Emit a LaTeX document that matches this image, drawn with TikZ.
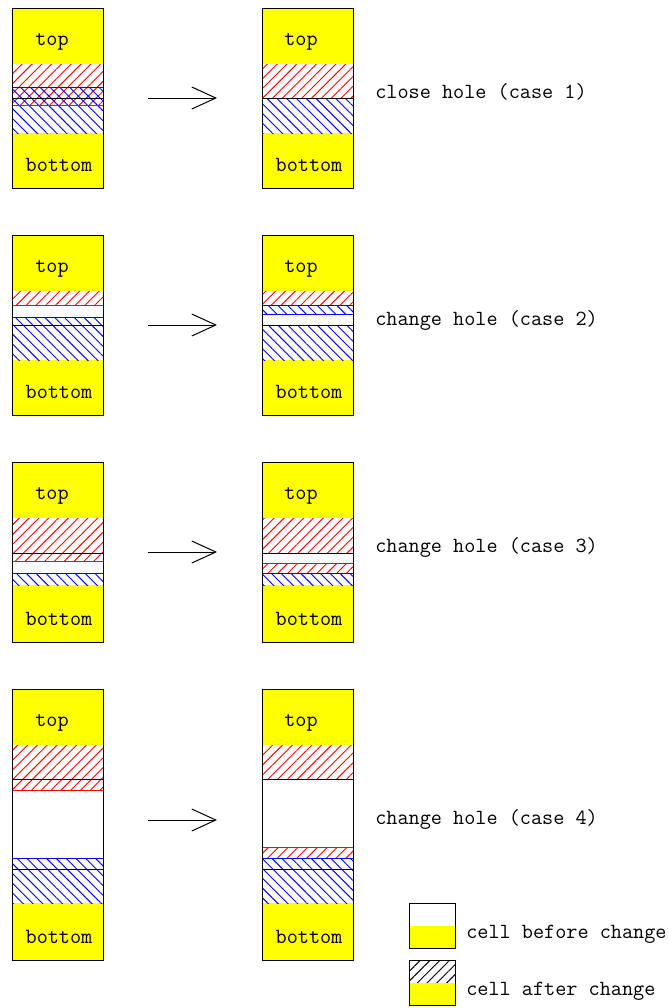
\documentclass[tikz,border=0pt]{standalone}
\usepackage{fontspec}
\usetikzlibrary{patterns.meta,arrows.meta}
\definecolor{yy}{RGB}{255,255,0}
\definecolor{rr}{RGB}{255,0,0}
\definecolor{bb}{RGB}{0,0,255}
\begin{document}
\begin{tikzpicture}[x=0.75pt,y=-0.75pt,
  cellbox/.style={draw=black,line width=0.75pt},
  yel/.style={fill=yy},
  redh/.style={pattern={Lines[angle=45,distance=5.2pt,line width=0.7pt]},pattern color=rr},
  blueh/.style={pattern={Lines[angle=-45,distance=5.2pt,line width=0.7pt]},pattern color=bb},
  blackh/.style={pattern={Lines[angle=45,distance=5.2pt,line width=0.7pt]},pattern color=black},
  redl/.style={draw=rr,line width=0.75pt},
  bluel/.style={draw=bb,line width=0.75pt},
  blackl/.style={draw=black,line width=0.75pt},
  txt/.style={font=\ttfamily\fontsize{16.2}{19}\selectfont,inner sep=0pt,anchor=base},
  lbl/.style={txt,anchor=base west},
  arr/.style={line width=0.75pt,-{Straight Barb[length=18pt,width=16.5pt,line width=0.75pt]}}
]
\useasboundingbox (0,0) rectangle (668,1008);
\fill[white] (0,0) rectangle (668,1008);

% ================= CASE 1 =================
% left
\fill[yel] (12,8) rectangle (103,64);
\fill[yel] (12,133) rectangle (103,188);
\fill[redh] (12,64) rectangle (103,105);
\fill[blueh] (12,87) rectangle (103,133);
\draw[redl] (12,105) -- (103,105);
\draw[bluel] (12,87) -- (103,87);
\draw[blackl] (12,98) -- (103,98);
\draw[cellbox] (12,8) rectangle (103,188);
\node[txt] (t1l) at (52,45) {top};
\node[txt] (b1l) at (59,171) {bottom};
% right
\fill[yel] (262,8) rectangle (353,64);
\fill[yel] (262,133) rectangle (353,188);
\fill[redh] (262,64) rectangle (353,98);
\fill[blueh] (262,98) rectangle (353,133);
\draw[blackl] (262,98) -- (353,98);
\draw[cellbox] (262,8) rectangle (353,188);
\node[txt] (t1r) at (301,45) {top};
\node[txt] (b1r) at (309,171) {bottom};
\coordinate (a1s) at (148,98);
\coordinate (a1e) at (217,98);
\draw[arr] (a1s) -- (a1e);
\node[lbl] (l1) at (375,98) {close hole (case 1)};

% ================= CASE 2 =================
% left
\fill[yel] (12,235) rectangle (103,291);
\fill[yel] (12,360) rectangle (103,415);
\fill[redh] (12,291) rectangle (103,305);
\fill[blueh] (12,317) rectangle (103,360);
\draw[redl] (12,305) -- (103,305);
\draw[bluel] (12,317) -- (103,317);
\draw[blackl] (12,325) -- (103,325);
\draw[cellbox] (12,235) rectangle (103,415);
\node[txt] (t2l) at (52,272) {top};
\node[txt] (b2l) at (59,398) {bottom};
% right
\fill[yel] (262,235) rectangle (353,291);
\fill[yel] (262,360) rectangle (353,415);
\fill[redh] (262,291) rectangle (353,305);
\fill[blueh] (262,305) rectangle (353,314);
\fill[blueh] (262,325) rectangle (353,360);
\draw[redl] (262,305) -- (353,305);
\draw[bluel] (262,305) -- (353,305);
\draw[bluel] (262,314) -- (353,314);
\draw[blackl] (262,325) -- (353,325);
\draw[cellbox] (262,235) rectangle (353,415);
\node[txt] (t2r) at (301,272) {top};
\node[txt] (b2r) at (309,398) {bottom};
\coordinate (a2s) at (148,325);
\coordinate (a2e) at (217,325);
\draw[arr] (a2s) -- (a2e);
\node[lbl] (l2) at (375,325) {change hole (case 2)};

% ================= CASE 3 =================
% left
\fill[yel] (12,462) rectangle (103,518);
\fill[yel] (12,585) rectangle (103,642);
\fill[redh] (12,518) rectangle (103,561);
\fill[blueh] (12,573) rectangle (103,585);
\draw[redl] (12,561) -- (103,561);
\draw[bluel] (12,573) -- (103,573);
\draw[blackl] (12,553) -- (103,553);
\draw[cellbox] (12,462) rectangle (103,642);
\node[txt] (t3l) at (52,499) {top};
\node[txt] (b3l) at (59,625) {bottom};
% right
\fill[yel] (262,462) rectangle (353,518);
\fill[yel] (262,585) rectangle (353,642);
\fill[redh] (262,518) rectangle (353,553);
\fill[redh] (262,563) rectangle (353,573);
\fill[blueh] (262,573) rectangle (353,585);
\draw[redl] (262,563) -- (353,563);
\draw[bluel] (262,573) -- (353,573);
\draw[blackl] (262,553) -- (353,553);
\draw[cellbox] (262,462) rectangle (353,642);
\node[txt] (t3r) at (301,499) {top};
\node[txt] (b3r) at (309,625) {bottom};
\coordinate (a3s) at (148,552);
\coordinate (a3e) at (217,552);
\draw[arr] (a3s) -- (a3e);
\node[lbl] (l3) at (375,552) {change hole (case 3)};

% ================= CASE 4 =================
% left
\fill[yel] (12,689) rectangle (103,745);
\fill[yel] (12,903) rectangle (103,960);
\fill[redh] (12,745) rectangle (103,790);
\fill[blueh] (12,858) rectangle (103,903);
\draw[redl] (12,790) -- (103,790);
\draw[bluel] (12,858) -- (103,858);
\draw[blackl] (12,779) -- (103,779);
\draw[blackl] (12,869) -- (103,869);
\draw[cellbox] (12,689) rectangle (103,960);
\node[txt] (t4l) at (52,726) {top};
\node[txt] (b4l) at (59,943) {bottom};
% right
\fill[yel] (262,689) rectangle (353,745);
\fill[yel] (262,903) rectangle (353,960);
\fill[redh] (262,745) rectangle (353,779);
\fill[redh] (262,847) rectangle (353,858);
\fill[blueh] (262,858) rectangle (353,903);
\draw[redl] (262,847) -- (353,847);
\draw[bluel] (262,858) -- (353,858);
\draw[blackl] (262,779) -- (353,779);
\draw[blackl] (262,869) -- (353,869);
\draw[cellbox] (262,689) rectangle (353,960);
\node[txt] (t4r) at (301,726) {top};
\node[txt] (b4r) at (309,943) {bottom};
\coordinate (a4s) at (148,820);
\coordinate (a4e) at (217,820);
\draw[arr] (a4s) -- (a4e);
\node[lbl] (l4) at (375,824) {change hole (case 4)};

% ================= LEGEND =================
\fill[yel] (409,926) rectangle (455,948);
\draw[cellbox] (409,903) rectangle (455,948);
\node[lbl] (lg1) at (466,938) {cell before change};
\fill[blackh] (409,960) rectangle (455,983);
\fill[yel] (409,983) rectangle (455,1005);
\draw[cellbox] (409,960) rectangle (455,1005);
\node[lbl] (lg2) at (466,995) {cell after change};
\end{tikzpicture}
\end{document}
